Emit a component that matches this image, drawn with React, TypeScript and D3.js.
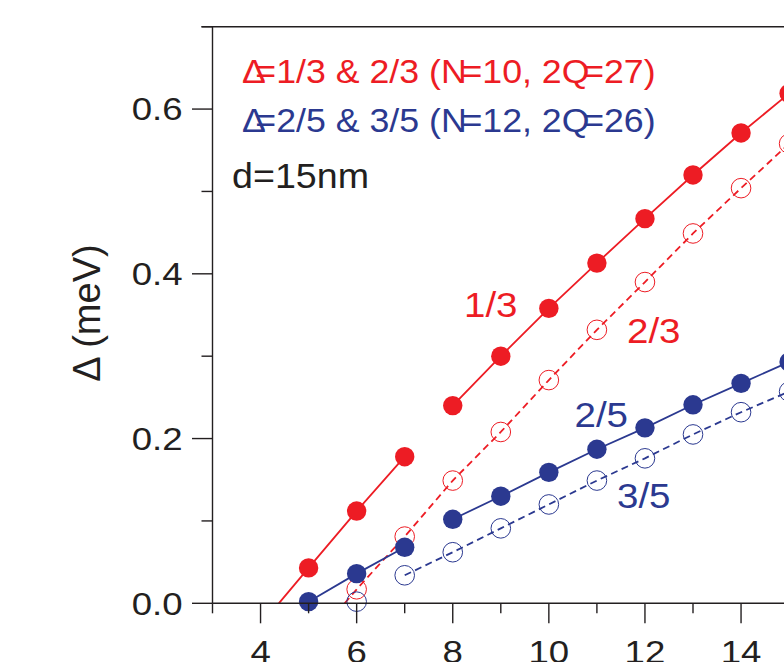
import React from "react";
import * as d3 from "d3";

// Canvas
const W = 784;
const H = 662;

// Magnetic-field axis positions (x) for each gap series
const xFull = [5, 6, 7, 8, 9, 10, 11, 12, 13, 14, 15];
const xFrom6 = [6, 7, 8, 9, 10, 11, 12, 13, 14, 15];

// Excitation gaps Δ (meV)
const gapOneThird = [0.043, 0.112, 0.178, 0.24, 0.3, 0.358, 0.413, 0.467, 0.52, 0.571, 0.619];
const gapTwoThirds = [0.017, 0.081, 0.149, 0.208, 0.271, 0.332, 0.39, 0.449, 0.504, 0.558];
const gapTwoFifths = [0.002, 0.036, 0.068, 0.102, 0.13, 0.159, 0.187, 0.213, 0.241, 0.267, 0.293];
const gapThreeFifths = [0.002, 0.034, 0.062, 0.091, 0.12, 0.149, 0.176, 0.205, 0.232, 0.257];

// Where the low-field branches extrapolate to zero gap
const onsetOneThird = 4.38;
const onsetTwoThirds = 5.75;

// Connected x-ranges of each curve
const segOneThird = [[5, 7], [8, 15]];
const segTwoThirds = [[6, 15]];
const segTwoFifths = [[5, 7], [8, 15]];
const segThreeFifths = [[7, 15]];

// Ticks
const xTicks = [3, 4, 5, 6, 7, 8, 9, 10, 11, 12, 13, 14, 15];
const xTickLabels = [4, 6, 8, 10, 12, 14];
const yTicks = [0, 0.1, 0.2, 0.3, 0.4, 0.5, 0.6, 0.7];
const yTickLabels = [0, 0.2, 0.4, 0.6];

const RED = "#ED1C24";
const BLUE = "#2B3990";
const INK = "#231F20";
const FONT = "'Liberation Sans', Arial, Helvetica, sans-serif";

type Pt = [number, number];

function buildSegments(xs: number[], ys: number[], segs: number[][], onset?: number): Pt[][] {
  return segs.map((s, i) => {
    const pts: Pt[] = xs
      .map((x, k) => [x, ys[k]] as Pt)
      .filter(([x]) => x >= s[0] && x <= s[1]);
    if (i === 0 && onset !== undefined) pts.unshift([onset, 0]);
    return pts;
  });
}

const SText = ({ x, y, sx = 1, size, fill = INK, anchor = "start", children }: any) => (
  <text
    transform={`translate(${x},${y}) scale(${sx},1)`}
    fontSize={size}
    fill={fill}
    textAnchor={anchor}
    fontFamily={FONT}
  >
    {children}
  </text>
);

export default function App() {
  const x = d3.scaleLinear().domain([3, 15]).range([212.5, 212.5 + 12 * 48.05]);
  const y = d3.scaleLinear().domain([0, 0.7]).range([603.3, 26.7]);
  const line = d3
    .line<Pt>()
    .x((d) => x(d[0]))
    .y((d) => y(d[1]));

  const curves = [
    { segs: buildSegments(xFull, gapOneThird, segOneThird, onsetOneThird), color: RED, dash: undefined },
    { segs: buildSegments(xFrom6, gapTwoThirds, segTwoThirds, onsetTwoThirds), color: RED, dash: "7,4.5" },
    { segs: buildSegments(xFull, gapTwoFifths, segTwoFifths), color: BLUE, dash: undefined },
    { segs: buildSegments(xFrom6, gapThreeFifths, segThreeFifths), color: BLUE, dash: "7,4.5" },
  ];

  const openSets = [
    { xs: xFrom6, ys: gapTwoThirds, color: RED },
    { xs: xFrom6, ys: gapThreeFifths, color: BLUE },
  ];
  const filledSets = [
    { xs: xFull, ys: gapOneThird, color: RED },
    { xs: xFull, ys: gapTwoFifths, color: BLUE },
  ];

  const x0 = x.range()[0];
  const yBase = y(0);
  const yTop = y(0.7);

  return (
    <svg
      width={W}
      height={H}
      style={{ position: "absolute", left: 0, top: 0, background: "#fff" }}
    >
      <rect width={W} height={H} fill="#fff" />

      {/* curves */}
      {curves.map((c, i) =>
        c.segs.map((s, j) => (
          <path
            key={`c${i}-${j}`}
            d={line(s) || ""}
            fill="none"
            stroke={c.color}
            strokeWidth={1.8}
            strokeDasharray={c.dash}
          />
        ))
      )}

      {/* open markers */}
      {openSets.map((s, i) =>
        s.xs.map((xv, k) => (
          <circle
            key={`o${i}-${k}`}
            cx={x(xv)}
            cy={y(s.ys[k])}
            r={9.8}
            fill="none"
            stroke={s.color}
            strokeWidth={1}
          />
        ))
      )}

      {/* filled markers */}
      {filledSets.map((s, i) =>
        s.xs.map((xv, k) => (
          <circle key={`f${i}-${k}`} cx={x(xv)} cy={y(s.ys[k])} r={9.7} fill={s.color} />
        ))
      )}

      {/* axes frame */}
      <line x1={x0} x2={x0} y1={yTop} y2={yBase} stroke={INK} strokeWidth={1.4} />
      <line x1={x0 - 11} x2={W} y1={yTop} y2={yTop} stroke={INK} strokeWidth={1.4} />
      <line x1={x0} x2={W} y1={yBase} y2={yBase} stroke={INK} strokeWidth={1.4} />

      {/* y ticks */}
      {yTicks.map((t) => {
        const major = yTickLabels.some((v) => Math.abs(v - t) < 1e-9);
        return (
          <line
            key={`yt${t}`}
            x1={x0 - (major ? 20.5 : 11)}
            x2={x0}
            y1={y(t)}
            y2={y(t)}
            stroke={INK}
            strokeWidth={1.4}
          />
        );
      })}
      {yTickLabels.map((t) => (
        <SText key={`yl${t}`} x={182.5} y={y(t) + 11.2} sx={1.2} size={30.5} anchor="end">
          {d3.format(".1f")(t)}
        </SText>
      ))}

      {/* x ticks */}
      {xTicks.map((t) => {
        const major = xTickLabels.includes(t);
        return (
          <line
            key={`xt${t}`}
            x1={x(t)}
            x2={x(t)}
            y1={yBase}
            y2={yBase + (major ? 20 : 10)}
            stroke={INK}
            strokeWidth={1.4}
          />
        );
      })}
      {xTickLabels.map((t) => (
        <SText key={`xl${t}`} x={x(t)} y={663} sx={1.2} size={30.5} anchor="middle">
          {t}
        </SText>
      ))}

      {/* y axis title */}
      <text
        transform={`translate(100,313) rotate(-90)`}
        fontSize={38}
        fill={INK}
        textAnchor="middle"
        fontFamily={FONT}
      >
        Δ (meV)
      </text>

      {/* legend */}
      <SText x={242} y={82.7} sx={1.05} size={34} fill={RED}>
        <tspan>Δ</tspan>
        <tspan dx={-10}>=1/3 &amp; 2/3 (N</tspan>
        <tspan dx={-5}>=10, 2Q</tspan>
        <tspan dx={-6}>=27)</tspan>
      </SText>
      <SText x={242} y={131.7} sx={1.05} size={34} fill={BLUE}>
        <tspan>Δ</tspan>
        <tspan dx={-10}>=2/5 &amp; 3/5 (N</tspan>
        <tspan dx={-5}>=12, 2Q</tspan>
        <tspan dx={-6}>=26)</tspan>
      </SText>
      <SText x={232} y={188.3} sx={1.06} size={35.5}>
        d=15nm
      </SText>

      {/* curve labels */}
      <SText x={464} y={316.7} sx={1.1} size={35} fill={RED}>1/3</SText>
      <SText x={627} y={343.3} sx={1.1} size={35} fill={RED}>2/3</SText>
      <SText x={574.5} y={427.3} sx={1.1} size={35} fill={BLUE}>2/5</SText>
      <SText x={617} y={508.3} sx={1.1} size={35} fill={BLUE}>3/5</SText>
    </svg>
  );
}
